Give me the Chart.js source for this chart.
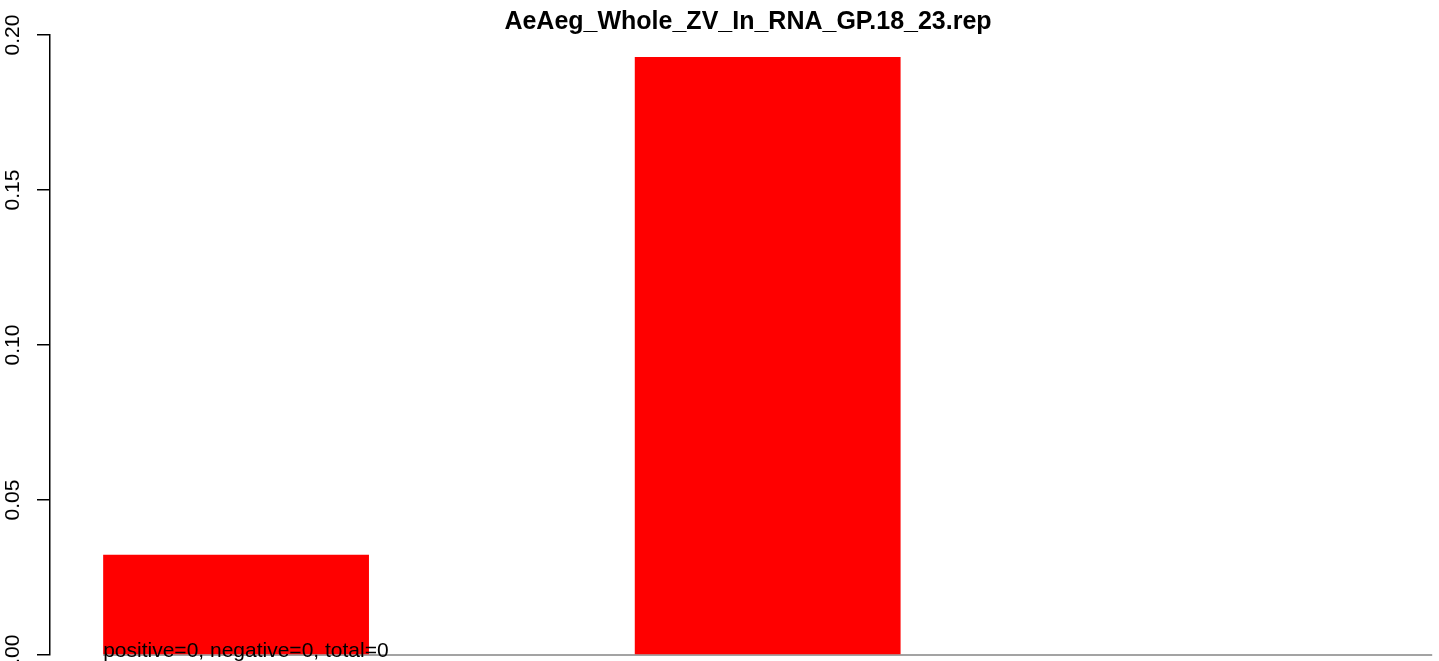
<!DOCTYPE html>
<html lang="en">
<head>
  <meta charset="UTF-8">
  <title>AeAeg_Whole_ZV_In_RNA_GP.18_23.rep</title>
  <script src="https://cdn.jsdelivr.net/npm/chart.js"></script>
  <style>
    html, body { margin: 0; padding: 0; background: #fff; overflow: hidden; }
    #wrap { width: 1439px; height: 661px; overflow: hidden; }
    canvas { display: block; }
  </style>
</head>
<body>
  <div id="wrap">
    <canvas id="grafik" width="1496" height="700"></canvas>
  </div>
  <script>
    const titleText = 'AeAeg_Whole_ZV_In_RNA_GP.18_23.rep';
    const categories = ['1', '2', '3'];
    const values = [0.0323, 0.1929, 0];
    const yTicks = [0, 0.05, 0.10, 0.15, 0.20];
    const note = 'positive=0, negative=0, total=0';

    // barplot(space = 1): bar i is centred at 1.5 + 2 * i
    const points = categories.map((c, i) => ({ x: 1.5 + 2 * i, y: values[i] }));
    const font = 'Liberation Sans, Arial, Helvetica, sans-serif';

    const extras = {
      id: 'extras',
      beforeDatasetsDraw(chart) {
        const { ctx, scales: { x, y } } = chart;
        ctx.save();
        ctx.strokeStyle = '#a3a3a3';
        ctx.lineWidth = 2;
        ctx.beginPath();
        ctx.moveTo(x.getPixelForValue(1), y.getPixelForValue(0));
        ctx.lineTo(x.getPixelForValue(6), y.getPixelForValue(0));
        ctx.stroke();
        ctx.restore();
      },
      afterDraw(chart) {
        const { ctx, scales: { x, y } } = chart;
        ctx.save();
        ctx.fillStyle = '#000';
        ctx.font = '21px ' + font;
        ctx.textAlign = 'left';
        ctx.textBaseline = 'alphabetic';
        ctx.fillText(note, x.getPixelForValue(1), y.getPixelForValue(0) + 2);
        ctx.restore();
      }
    };

    const ctx = document.getElementById('grafik').getContext('2d');
    new Chart(ctx, {
      type: 'bar',
      data: {
        datasets: [{
          data: points,
          backgroundColor: '#ff0000',
          borderWidth: 0,
          categoryPercentage: 0.5,
          barPercentage: 1
        }]
      },
      options: {
        responsive: false,
        animation: false,
        devicePixelRatio: 1,
        layout: { padding: { left: 0, right: 0, top: 0, bottom: 45 } },
        plugins: {
          legend: { display: false },
          tooltip: { enabled: false },
          title: {
            display: true,
            text: titleText,
            color: '#000',
            font: { family: font, size: 25, weight: 'bold', lineHeight: 1 },
            padding: { top: 10, bottom: 0 }
          }
        },
        scales: {
          x: {
            type: 'linear',
            display: false,
            offset: false,
            min: 0.8,
            max: 6.24,
            ticks: { stepSize: 2, includeBounds: false }
          },
          y: {
            min: 0,
            max: 0.2,
            afterFit: s => { s.width = 50; },
            afterBuildTicks: s => { s.ticks = yTicks.map(v => ({ value: v })); },
            border: { display: true, color: '#000', width: 1.5 },
            grid: {
              display: true,
              drawOnChartArea: false,
              drawTicks: true,
              tickLength: 13,
              color: '#000',
              lineWidth: 1.5
            },
            ticks: {
              color: '#000',
              font: { family: font, size: 21 },
              minRotation: 90,
              maxRotation: 90,
              crossAlign: 'center',
              padding: 3,
              callback: v => v.toFixed(2)
            }
          }
        }
      },
      plugins: [extras]
    });
  </script>
</body>
</html>
